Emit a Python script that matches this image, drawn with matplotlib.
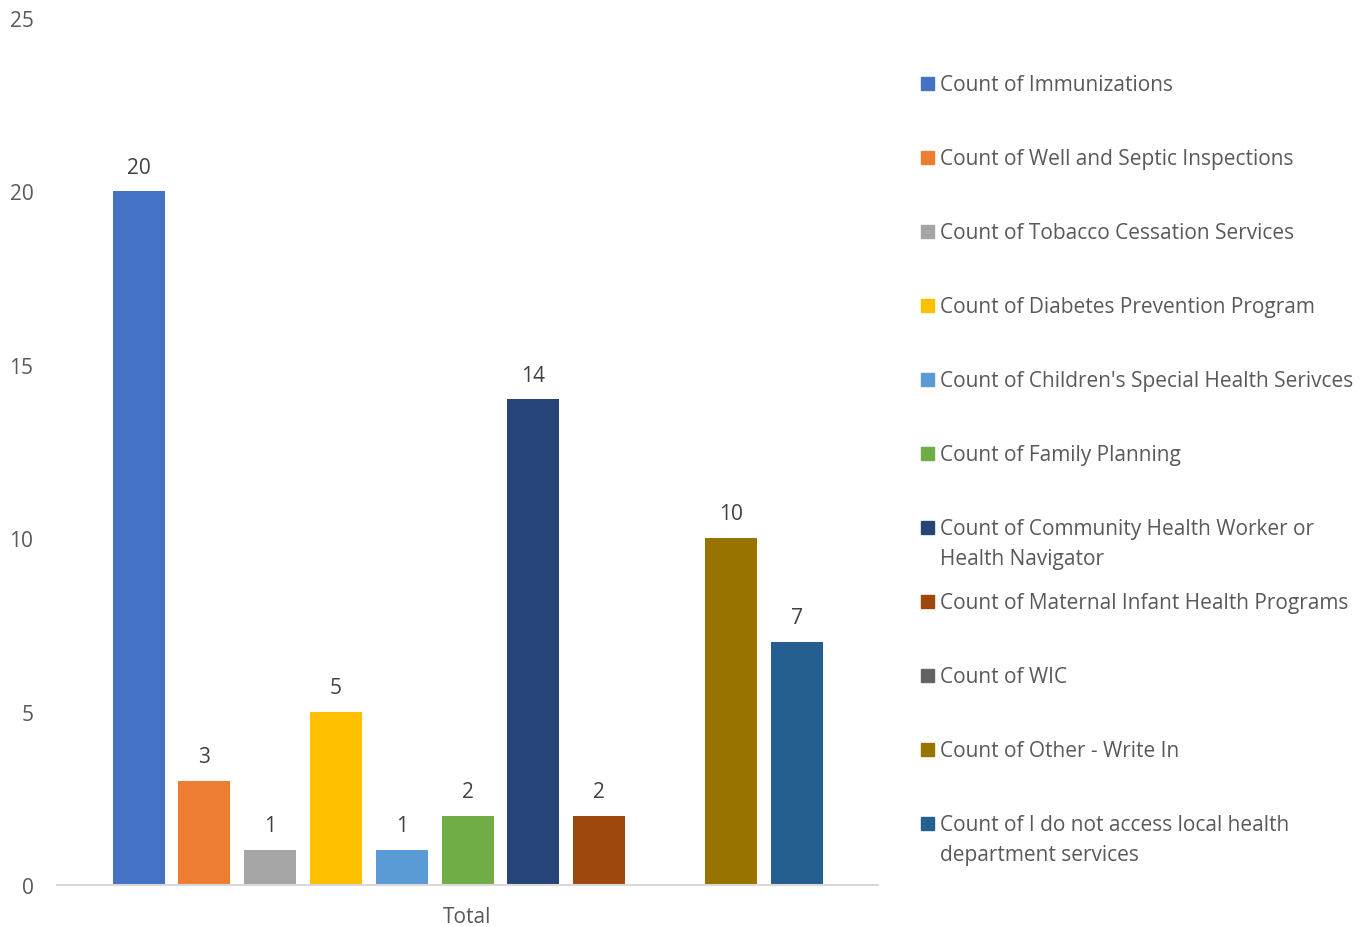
import matplotlib
matplotlib.use("Agg")
import matplotlib.pyplot as plt
from matplotlib.patches import Rectangle

series = [
    "Count of Immunizations",
    "Count of Well and Septic Inspections",
    "Count of Tobacco Cessation Services",
    "Count of Diabetes Prevention Program",
    "Count of Children's Special Health Serivces",
    "Count of Family Planning",
    "Count of Community Health Worker or\nHealth Navigator",
    "Count of Maternal Infant Health Programs",
    "Count of WIC",
    "Count of Other - Write In",
    "Count of I do not access local health\ndepartment services",
]
values = [20, 3, 1, 5, 1, 2, 14, 2, 0, 10, 7]
colors = ["#4472C4", "#ED7D31", "#A5A5A5", "#FFC000", "#5B9BD5", "#70AD47",
          "#264478", "#9E480E", "#636363", "#997300", "#255E91"]
category = "Total"
yticks = [0, 5, 10, 15, 20, 25]

plt.rcParams['font.family'] = ['Open Sans', 'DejaVu Sans']
TXT = "#595959"
FS = 15

fig = plt.figure(figsize=(13.7, 9.28), dpi=100)
ax = fig.add_axes([57/1370, 42/928, (878-57)/1370, (886-19)/928])

n = len(values)
slot_px = 65.8
width = 52 / slot_px
offsets = [(i - (n - 1) / 2) for i in range(n)]
for i, (v, c) in enumerate(zip(values, colors)):
    ax.bar(offsets[i], v, width=width, color=c, label=series[i])
    if v > 0:
        ax.annotate(str(v), (offsets[i], v), xytext=(0, 10), textcoords="offset points",
                    ha="center", va="bottom", fontsize=FS, color="#404040")

half = (878 - 57) / slot_px / 2
ax.set_xlim(-half, half)
ax.set_ylim(0, 25)
ax.set_yticks(yticks)
ax.set_yticklabels([str(t) for t in yticks], fontsize=FS, color=TXT)
ax.set_xticks([0])
ax.set_xticklabels([category], fontsize=FS, color=TXT)
ax.tick_params(axis="y", length=0, pad=17)
ax.tick_params(axis="x", length=0, pad=15)
for s in ["top", "right", "left"]:
    ax.spines[s].set_visible(False)
ax.spines["bottom"].set_color("#D9D9D9")
ax.spines["bottom"].set_linewidth(1.5)

# legend (manual to align handles with first text line)
W, H = 1370, 928
for i, (name, c) in enumerate(zip(series, colors)):
    ycen = 84 + 74 * i
    fig.patches.append(Rectangle((921 / W, 1 - (ycen + 6.5) / H), 13 / W, 13 / H,
                                 transform=fig.transFigure, color=c))
    fig.text(940 / W, 1 - (ycen - 9) / H, name, fontsize=FS, color=TXT,
             ha="left", va="top", linespacing=1.55)

fig.savefig("out.png", dpi=100, facecolor="white")
